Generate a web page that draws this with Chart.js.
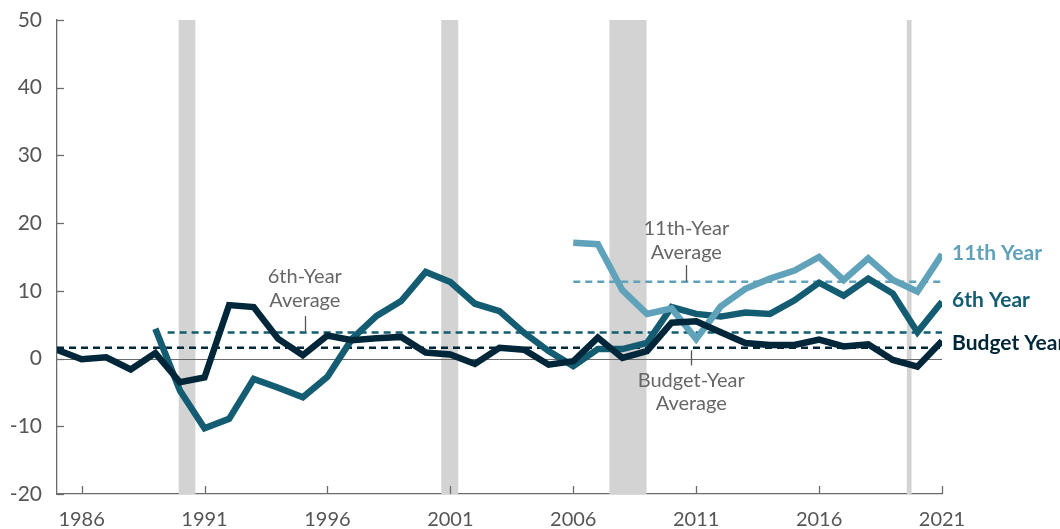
<!DOCTYPE html>
<html>
<head>
<meta charset="utf-8">
<script src="https://cdn.jsdelivr.net/npm/chart.js@4.4.1/dist/chart.umd.min.js"></script>
<style>
html,body{margin:0;padding:0;background:#fff;}
#wrap{width:1060px;height:529px;position:relative;}
</style>
</head>
<body>
<div id="wrap"><canvas id="c" width="1060" height="529"></canvas></div>
<script>
// ---- Data ----
const budgetYears = [1985,1986,1987,1988,1989,1990,1991,1992,1993,1994,1995,1996,1997,1998,1999,2000,2001,2002,2003,2004,2005,2006,2007,2008,2009,2010,2011,2012,2013,2014,2015,2016,2017,2018,2019,2020,2021];
const budgetYear = [1.3,-0.1,0.2,-1.6,0.8,-3.5,-2.8,7.9,7.6,2.9,0.5,3.4,2.7,3.0,3.2,0.9,0.6,-0.8,1.6,1.3,-0.9,-0.4,3.1,0.1,1.1,5.3,5.5,3.9,2.3,2.0,2.0,2.8,1.8,2.1,-0.2,-1.2,2.6];
const sixthYears = [1989,1990,1991,1992,1993,1994,1995,1996,1997,1998,1999,2000,2001,2002,2003,2004,2005,2006,2007,2008,2009,2010,2011,2012,2013,2014,2015,2016,2017,2018,2019,2020,2021];
const sixthYear = [4.4,-4.7,-10.3,-8.9,-3.0,-4.3,-5.7,-2.7,2.9,6.3,8.5,12.8,11.3,8.1,7.0,3.8,1.1,-1.1,1.4,1.4,2.3,7.6,6.6,6.2,6.8,6.6,8.6,11.2,9.3,11.8,9.6,3.9,8.4];
const eleventhYears = [2006,2007,2008,2009,2010,2011,2012,2013,2014,2015,2016,2017,2018,2019,2020,2021];
const eleventhYear = [17.1,16.9,10.1,6.6,7.4,2.9,7.7,10.3,11.8,13.0,15.0,11.6,14.8,11.6,9.9,15.4];
const averages = {budget:1.6, sixth:3.85, eleventh:11.35};
const avgSpans = {budget:[1985,2021], sixth:[1989.5,2021], eleventh:[2006,2021]};
const recessions = [[1989.95,1990.63],[2000.63,2001.32],[2007.47,2008.98],[2019.57,2019.76]];
const xTicks = [1986,1991,1996,2001,2006,2011,2016,2021];
const seriesNames = ['Budget Year','6th Year','11th Year'];

const C_NAVY = '#002639';
const C_TEAL = '#135c72';
const C_LIGHT = '#5fa2ba';
const FONT = 'Lato, "Open Sans", sans-serif';

const pts = (xs, ys) => xs.map((x,i)=>({x, y: ys[i]}));
const avgLine = (span, v) => [{x:span[0], y:v},{x:span[1], y:v}];

const bgPlugin = {
  id:'bg',
  beforeDatasetsDraw(chart){
    const {ctx, chartArea:a, scales:{x,y}} = chart;
    ctx.save();
    ctx.fillStyle = '#d3d3d3';
    recessions.forEach(r=>{
      const x0 = x.getPixelForValue(r[0]), x1 = x.getPixelForValue(r[1]);
      ctx.fillRect(x0, a.top, x1-x0, a.bottom-a.top);
    });
    const y0 = Math.round(y.getPixelForValue(0))+0.5;
    ctx.strokeStyle = '#6b6b6b';
    ctx.lineWidth = 1;
    ctx.beginPath(); ctx.moveTo(a.left, y0); ctx.lineTo(a.right, y0); ctx.stroke();
    ctx.restore();
  }
};

const annoPlugin = {
  id:'anno',
  afterDatasetsDraw(chart){
    const {ctx, chartArea:a, scales:{x,y}} = chart;
    ctx.save();
    ctx.strokeStyle = '#6b6b6b';
    ctx.lineWidth = 1.3;
    y.ticks.forEach(t=>{
      const py = Math.round(y.getPixelForValue(t.value))+0.5;
      ctx.beginPath(); ctx.moveTo(a.left, py); ctx.lineTo(a.left+7, py); ctx.stroke();
    });
    xTicks.forEach(v=>{
      const px = Math.round(x.getPixelForValue(v))+0.5;
      ctx.beginPath(); ctx.moveTo(px, a.bottom); ctx.lineTo(px, a.bottom-8); ctx.stroke();
    });
    ctx.fillStyle = '#666666';
    ctx.font = '20px ' + FONT;
    ctx.textAlign = 'center';
    ctx.textBaseline = 'middle';
    const notes = [
      {x:1995.08, lines:['6th-Year','Average'], ly:[12.07,8.6], lead:[6.3,3.95]},
      {x:2010.6, lines:['11th-Year','Average'], ly:[19.25,15.7], lead:[13.8,11.4]},
      {x:2010.8, lines:['Budget-Year','Average'], ly:[-3.2,-6.6], lead:[1.2,-1.0]}
    ];
    notes.forEach(n=>{
      const px = x.getPixelForValue(n.x);
      n.lines.forEach((s,i)=>ctx.fillText(s, px, y.getPixelForValue(n.ly[i])));
      ctx.strokeStyle = '#555';
      ctx.lineWidth = 1.3;
      ctx.beginPath();
      ctx.moveTo(Math.round(px)+0.5, y.getPixelForValue(n.lead[0]));
      ctx.lineTo(Math.round(px)+0.5, y.getPixelForValue(n.lead[1]));
      ctx.stroke();
    });
    ctx.font = 'bold 21px ' + FONT;
    ctx.textAlign = 'left';
    const ends = [
      {name:seriesNames[2], v:eleventhYear[eleventhYear.length-1]+0.2, c:C_LIGHT},
      {name:seriesNames[1], v:sixthYear[sixthYear.length-1]+0.2, c:C_TEAL},
      {name:seriesNames[0], v:budgetYear[budgetYear.length-1]-0.3, c:C_NAVY}
    ];
    ends.forEach(e=>{
      ctx.fillStyle = e.c;
      ctx.fillText(e.name, a.right+10, y.getPixelForValue(e.v));
    });
    ctx.restore();
  }
};

const lineDs = (label, data, color) => ({
  label, data, borderColor: color, borderWidth: 6.5, pointRadius: 0,
  fill:false, tension:0, borderJoinStyle:'miter', borderCapStyle:'butt'
});
const dashDs = (label, data, color) => ({
  label, data, borderColor: color, borderWidth: 2.6, pointRadius: 0,
  borderDash:[7,5], fill:false, tension:0, borderCapStyle:'butt'
});

new Chart(document.getElementById('c'), {
  type:'line',
  data:{
    datasets:[
      lineDs(seriesNames[0], pts(budgetYears, budgetYear), C_NAVY),
      lineDs(seriesNames[2], pts(eleventhYears, eleventhYear), C_LIGHT),
      lineDs(seriesNames[1], pts(sixthYears, sixthYear), C_TEAL),
      dashDs('Budget-Year Average', avgLine(avgSpans.budget, averages.budget), C_NAVY),
      dashDs('6th-Year Average', avgLine(avgSpans.sixth, averages.sixth), C_TEAL),
      dashDs('11th-Year Average', avgLine(avgSpans.eleventh, averages.eleventh), C_LIGHT)
    ]
  },
  options:{
    responsive:false,
    animation:false,
    events:[],
    layout:{padding:{top:20, right:118, left:0, bottom:0}},
    plugins:{legend:{display:false}, tooltip:{enabled:false}},
    scales:{
      x:{
        type:'linear', min:1985, max:2021,
        afterBuildTicks(s){ s.ticks = xTicks.map(v=>({value:v})); },
        afterFit(s){ s.height = 35; s.paddingLeft = 0; s.paddingRight = 0; },
        grid:{display:false, drawTicks:false},
        border:{display:true, color:'#6b6b6b', width:1.3},
        ticks:{padding:14, color:'#555555', font:{family:FONT, size:20}, maxRotation:0, autoSkip:false,
          callback:(v)=>String(v)}
      },
      y:{
        min:-20, max:50,
        afterFit(s){ s.width = 57; s.paddingTop = 0; s.paddingBottom = 0; },
        grid:{display:false, drawTicks:false},
        border:{display:true, color:'#6b6b6b', width:1.3},
        ticks:{stepSize:10, padding:15, color:'#555555', font:{family:FONT, size:21}}
      }
    }
  },
  plugins:[bgPlugin, annoPlugin]
});
</script>
</body>
</html>
